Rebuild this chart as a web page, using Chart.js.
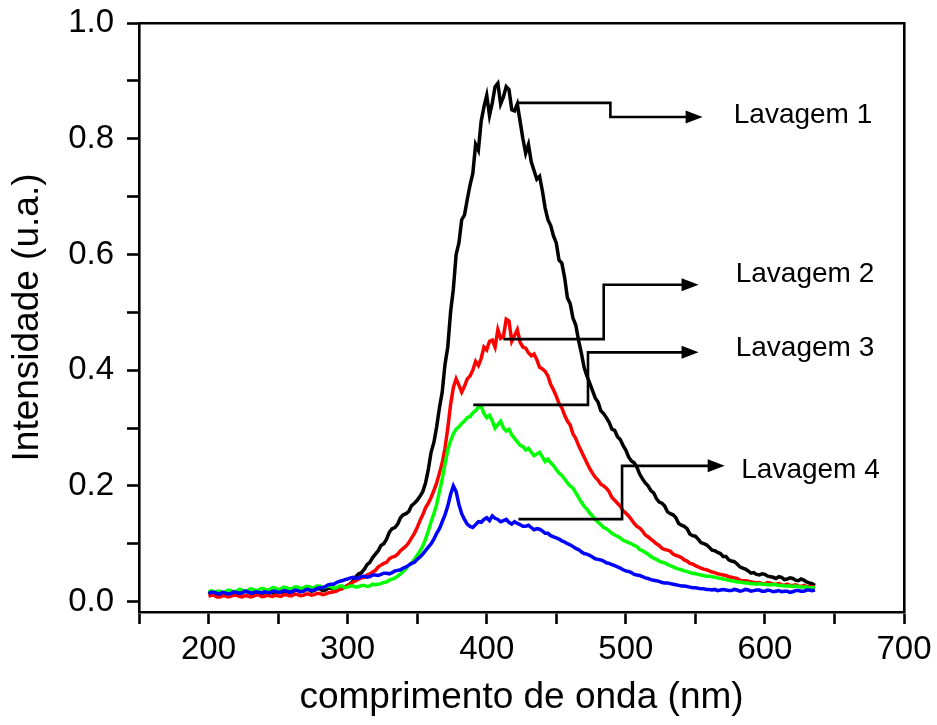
<!DOCTYPE html>
<html>
<head>
<meta charset="utf-8">
<script src="https://cdn.jsdelivr.net/npm/chart.js@4/dist/chart.umd.min.js"></script>
<style>
html,body{margin:0;padding:0;background:#fff;}
#wrap{width:937px;height:725px;}
</style>
</head>
<body>
<div id="wrap"><canvas id="c" width="937" height="725"></canvas></div>
<script>
// ---- data ----
const wavelengths = [200,202,204,206,208,210,212,214,216,218,220,222,224,226,228,230,232,234,236,238,240,242,244,246,248,250,252,254,256,258,260,262,264,266,268,270,272,274,276,278,280,282,284,286,288,290,292,294,296,298,300,302,304,306,308,310,312,314,316,318,320,322,324,326,328,330,332,334,336,338,340,342,344,346,348,350,352,354,356,358,360,362,364,366,368,370,372,374,376,378,380,382,384,386,388,390,392,394,396,398,400,402,404,406,408,410,412,414,416,418,420,422,424,426,428,430,432,434,436,438,440,442,444,446,448,450,452,454,456,458,460,462,464,466,468,470,472,474,476,478,480,482,484,486,488,490,492,494,496,498,500,502,504,506,508,510,512,514,516,518,520,522,524,526,528,530,532,534,536,538,540,542,544,546,548,550,552,554,556,558,560,562,564,566,568,570,572,574,576,578,580,582,584,586,588,590,592,594,596,598,600,602,604,606,608,610,612,614,616,618,620,622,624,626,628,630,632,634,636];

const lavagem1 = [.013,.016,.015,.013,.012,.015,.014,.017,.016,.014,.013,.016,.015,.018,.017,.015,.014,.017,.016,.014,.015,.019,.018,.015,.016,.019,.017,.016,.019,.020,.017,.019,.020,.017,.018,.021,.021,.018,.019,.022,.022,.019,.020,.023,.024,.021,.022,.025,.026,.025,.028,.031,.036,.043,.048,.050,.056,.064,.068,.076,.082,.088,.097,.100,.108,.120,.126,.128,.134,.145,.150,.152,.156,.166,.170,.175,.182,.190,.205,.228,.258,.275,.302,.335,.362,.410,.440,.500,.540,.600,.620,.660,.668,.695,.720,.740,.790,.780,.830,.855,.875,.840,.862,.890,.896,.860,.872,.890,.885,.850,.848,.860,.830,.800,.775,.790,.760,.745,.730,.735,.710,.680,.660,.650,.632,.620,.590,.585,.560,.525,.515,.490,.478,.452,.430,.405,.390,.378,.365,.352,.345,.330,.325,.318,.310,.298,.296,.285,.280,.270,.262,.250,.243,.240,.232,.220,.212,.205,.200,.192,.188,.178,.172,.170,.165,.155,.152,.150,.145,.135,.132,.130,.126,.117,.114,.113,.108,.102,.100,.098,.094,.089,.088,.085,.083,.078,.078,.072,.070,.069,.065,.060,.058,.056,.053,.049,.050,.047,.046,.048,.047,.044,.043,.042,.040,.043,.042,.038,.039,.041,.040,.037,.036,.039,.037,.034,.032,.031,.028];

const lavagem2 = [.009,.011,.011,.008,.008,.010,.010,.008,.009,.011,.011,.009,.008,.010,.010,.008,.009,.011,.012,.009,.009,.011,.010,.009,.011,.010,.009,.012,.012,.010,.010,.013,.012,.010,.011,.013,.013,.011,.012,.014,.014,.012,.013,.015,.016,.017,.018,.021,.022,.025,.028,.030,.034,.036,.039,.041,.042,.046,.048,.051,.054,.060,.063,.066,.068,.074,.077,.078,.082,.088,.092,.096,.102,.110,.118,.128,.140,.150,.162,.170,.180,.192,.205,.222,.240,.265,.300,.340,.370,.385,.374,.362,.372,.385,.390,.400,.415,.408,.420,.440,.435,.450,.452,.440,.470,.455,.458,.488,.485,.450,.460,.470,.448,.440,.438,.430,.425,.428,.418,.405,.402,.398,.390,.375,.366,.355,.342,.335,.322,.312,.305,.290,.282,.270,.260,.250,.240,.230,.222,.215,.210,.203,.200,.196,.190,.180,.175,.170,.165,.157,.153,.148,.142,.135,.130,.127,.122,.115,.112,.108,.104,.100,.097,.092,.090,.089,.087,.082,.080,.078,.076,.072,.070,.066,.065,.062,.060,.058,.056,.055,.053,.051,.050,.048,.047,.046,.045,.043,.042,.041,.040,.037,.036,.036,.035,.034,.033,.032,.033,.031,.031,.033,.032,.030,.030,.031,.029,.028,.030,.028,.028,.029,.027,.026,.028,.026,.026,.025,.025];

const lavagem3 = [.017,.019,.016,.018,.018,.016,.017,.020,.019,.017,.018,.021,.020,.018,.019,.022,.021,.019,.020,.023,.022,.020,.021,.024,.023,.021,.022,.025,.024,.022,.022,.025,.025,.023,.023,.026,.026,.024,.024,.027,.027,.024,.025,.027,.026,.023,.024,.027,.027,.024,.025,.027,.027,.025,.026,.028,.028,.026,.027,.030,.029,.030,.031,.033,.034,.037,.039,.041,.044,.048,.052,.057,.063,.067,.073,.080,.087,.096,.108,.122,.138,.152,.168,.190,.212,.238,.262,.278,.290,.298,.302,.308,.312,.318,.320,.326,.330,.336,.338,.325,.318,.322,.312,.300,.306,.312,.300,.295,.298,.288,.282,.276,.270,.268,.262,.265,.258,.252,.255,.258,.250,.242,.246,.240,.235,.228,.222,.218,.212,.205,.200,.196,.188,.180,.172,.165,.160,.153,.148,.142,.137,.133,.128,.126,.122,.118,.115,.113,.110,.106,.104,.102,.100,.097,.095,.090,.088,.085,.082,.078,.075,.073,.070,.068,.067,.064,.062,.060,.058,.056,.055,.053,.052,.050,.049,.048,.047,.046,.045,.044,.044,.043,.042,.041,.040,.039,.038,.037,.036,.035,.034,.034,.033,.032,.032,.031,.031,.030,.031,.030,.030,.029,.029,.030,.029,.028,.028,.027,.027,.027,.026,.027,.026,.025,.025,.025,.024,.024,.024];

const lavagem4 = [.014,.016,.016,.014,.013,.016,.015,.013,.014,.017,.016,.014,.015,.018,.017,.015,.015,.017,.016,.015,.017,.016,.015,.018,.018,.016,.016,.019,.018,.016,.017,.020,.019,.017,.018,.021,.021,.019,.020,.023,.024,.024,.026,.029,.030,.030,.033,.035,.036,.038,.039,.041,.042,.040,.041,.044,.044,.042,.043,.046,.046,.045,.047,.049,.049,.048,.050,.053,.054,.055,.058,.060,.063,.066,.068,.073,.077,.082,.088,.094,.100,.108,.118,.126,.138,.150,.165,.185,.200,.190,.168,.152,.142,.134,.130,.128,.133,.138,.137,.142,.145,.140,.148,.144,.142,.138,.140,.142,.137,.134,.138,.135,.133,.130,.130,.132,.128,.124,.126,.125,.122,.118,.118,.114,.112,.110,.108,.105,.103,.100,.098,.095,.092,.090,.086,.083,.082,.080,.077,.074,.073,.072,.070,.067,.066,.064,.062,.060,.058,.055,.053,.052,.050,.047,.046,.045,.043,.041,.040,.038,.037,.036,.035,.033,.032,.032,.031,.030,.029,.028,.027,.027,.026,.025,.024,.024,.023,.022,.022,.021,.021,.020,.021,.019,.020,.021,.020,.019,.019,.021,.020,.018,.019,.021,.020,.018,.019,.020,.020,.018,.018,.020,.019,.017,.018,.019,.017,.018,.018,.016,.017,.019,.019,.018,.018,.020,.020,.019,.020];

const seriesNames = ['Lavagem 1','Lavagem 2','Lavagem 3','Lavagem 4'];
const seriesColors = ['#000000','#ff0000','#00ff00','#0000ff'];

const xTickValues = [150,200,250,300,350,400,450,500,550,600,650,700];
const xMajorTicks = [200,300,400,500,600,700];
const xTickLabels = ['200','300','400','500','600','700'];
const yTickValues = [0,0.1,0.2,0.3,0.4,0.5,0.6,0.7,0.8,0.9,1.0];
const yMajorTicks = [0,0.2,0.4,0.6,0.8,1.0];
const yTickLabels = ['0.0','0.2','0.4','0.6','0.8','1.0'];

// annotation callouts (data coordinates)
const annoLabels = ['Lavagem 1','Lavagem 2','Lavagem 3','Lavagem 4'];
const annoPaths = [
  [[421.8,0.862],[488.9,0.862],[488.9,0.8375],[555.2,0.8375]],
  [[412.0,0.4537],[484.1,0.4537],[484.1,0.5475],[552.3,0.5475]],
  [[390.3,0.340],[472.8,0.340],[472.8,0.4308],[552.3,0.4308]],
  [[422.8,0.1425],[497.3,0.1425],[497.3,0.2346],[571.1,0.2346]]
];
const annoTextPos = [[577.6,0.827],[579.0,0.5527],[579.0,0.4248],[583.0,0.2139]];

// ---- chart ----
const FONT = "'Liberation Sans', Arial, Helvetica, sans-serif";
const seriesData = [lavagem1, lavagem2, lavagem3, lavagem4];
const datasets = seriesData.map((arr, i) => ({
  label: seriesNames[i],
  data: arr.map((v, j) => ({x: wavelengths[j], y: v})),
  borderColor: seriesColors[i],
  backgroundColor: seriesColors[i],
  borderWidth: 3.5,
  pointRadius: 0,
  tension: 0,
  fill: false,
  order: 4 - i
}));

const annotationPlugin = {
  id: 'callouts',
  afterDatasetsDraw(chart) {
    const ctx = chart.ctx, xs = chart.scales.x, ys = chart.scales.y;
    ctx.save();
    ctx.strokeStyle = '#000';
    ctx.fillStyle = '#000';
    ctx.lineWidth = 2.6;
    ctx.lineJoin = 'miter';
    annoPaths.forEach((path, k) => {
      const pts = path.map(p => [xs.getPixelForValue(p[0]), ys.getPixelForValue(p[1])]);
      const tip = pts[pts.length - 1];
      ctx.beginPath();
      ctx.moveTo(pts[0][0], pts[0][1]);
      for (let i = 1; i < pts.length - 1; i++) ctx.lineTo(pts[i][0], pts[i][1]);
      ctx.lineTo(tip[0] - 12, tip[1]);
      ctx.stroke();
      ctx.beginPath();
      ctx.moveTo(tip[0], tip[1]);
      ctx.lineTo(tip[0] - 17, tip[1] - 6.5);
      ctx.lineTo(tip[0] - 17, tip[1] + 6.5);
      ctx.closePath();
      ctx.fill();
      ctx.font = '28px ' + FONT;
      ctx.textAlign = 'left';
      ctx.textBaseline = 'alphabetic';
      const tp = annoTextPos[k];
      ctx.fillText(annoLabels[k], xs.getPixelForValue(tp[0]), ys.getPixelForValue(tp[1]));
    });
    ctx.restore();
  }
};

const near = (a, b) => Math.abs(a - b) < 1e-6;

new Chart(document.getElementById('c'), {
  type: 'line',
  data: {datasets},
  plugins: [annotationPlugin],
  options: {
    responsive: false,
    animation: false,
    devicePixelRatio: 1,
    layout: {padding: 0},
    plugins: {legend: {display: false}, tooltip: {enabled: false}},
    scales: {
      x: {
        type: 'linear', position: 'bottom', min: 150, max: 700,
        afterBuildTicks: s => { s.ticks = xTickValues.map(v => ({value: v})); },
        afterFit: s => { s.height = 113; s.paddingLeft = 0; s.paddingRight = 0; },
        ticks: {
          autoSkip: false, maxRotation: 0, padding: 6, color: '#000',
          font: {family: FONT, size: 33},
          callback: v => { const i = xMajorTicks.findIndex(m => near(m, v)); return i >= 0 ? xTickLabels[i] : ''; }
        },
        grid: {drawOnChartArea: false, drawTicks: true, tickLength: 12, tickWidth: 2.6, tickColor: '#000'},
        border: {display: true, color: '#000', width: 2.6},
        title: {display: true, text: 'comprimento de onda (nm)', color: '#000',
                font: {family: FONT, size: 37}, padding: {top: 6, bottom: 5}}
      },
      y: {
        type: 'linear', position: 'left', min: -0.018, max: 1.0,
        afterBuildTicks: s => { s.ticks = yTickValues.map(v => ({value: v})); },
        afterFit: s => { s.width = 139; s.paddingTop = 0; s.paddingBottom = 0; },
        ticks: {
          autoSkip: false, padding: 13, color: '#000',
          font: {family: FONT, size: 33},
          callback: v => { const i = yMajorTicks.findIndex(m => near(m, v)); return i >= 0 ? yTickLabels[i] : ''; }
        },
        grid: {drawOnChartArea: false, drawTicks: true, tickLength: 12, tickWidth: 2.6, tickColor: '#000'},
        border: {display: true, color: '#000', width: 2.6},
        title: {display: true, text: 'Intensidade (u.a.)', color: '#000',
                font: {family: FONT, size: 37}, padding: {top: 6, bottom: 0}}
      },
      x2: {
        type: 'linear', position: 'top', min: 150, max: 700,
        afterFit: s => { s.height = 23; s.paddingLeft = 0; s.paddingRight = 0; },
        ticks: {display: false},
        grid: {display: false, drawTicks: false},
        border: {display: true, color: '#000', width: 2.6}
      },
      y2: {
        type: 'linear', position: 'right', min: -0.018, max: 1.0,
        afterFit: s => { s.width = 33; s.paddingTop = 0; s.paddingBottom = 0; },
        ticks: {display: false},
        grid: {display: false, drawTicks: false},
        border: {display: true, color: '#000', width: 2.6}
      }
    }
  }
});
</script>
</body>
</html>
